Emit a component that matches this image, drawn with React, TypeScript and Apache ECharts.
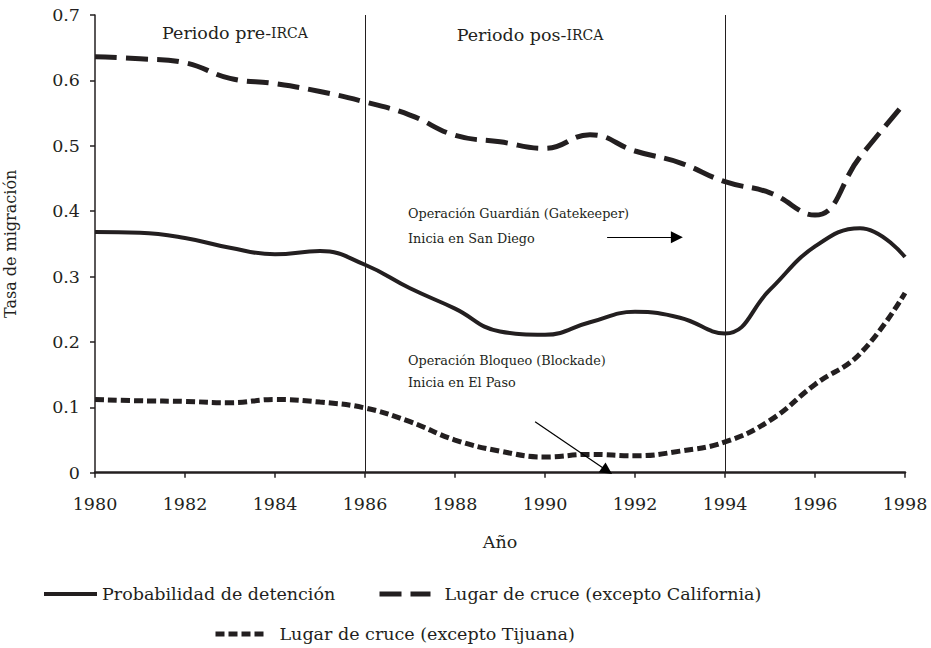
import React, { useEffect, useRef } from 'react';
import * as echarts from 'echarts';

const years = [1980, 1981, 1982, 1983, 1984, 1985, 1986, 1987, 1988, 1989, 1990, 1991, 1992, 1993, 1994, 1995, 1996, 1997, 1998];
const detencion = [0.368, 0.367, 0.359, 0.344, 0.334, 0.339, 0.318, 0.282, 0.251, 0.216, 0.211, 0.230, 0.246, 0.237, 0.213, 0.280, 0.346, 0.374, 0.330];
const california = [0.636, 0.633, 0.627, 0.603, 0.595, 0.583, 0.567, 0.547, 0.516, 0.506, 0.496, 0.517, 0.492, 0.474, 0.445, 0.428, 0.394, 0.483, 0.566];
const tijuana = [0.112, 0.110, 0.109, 0.107, 0.112, 0.108, 0.099, 0.078, 0.050, 0.033, 0.024, 0.028, 0.026, 0.033, 0.047, 0.080, 0.135, 0.182, 0.275];

const seriesNames = ['Probabilidad de detención', 'Lugar de cruce (excepto California)', 'Lugar de cruce (excepto Tijuana)'];
const periodLines = [1986, 1994];
const periodLabels = ['Periodo pre-{sc|IRCA}', 'Periodo pos-{sc|IRCA}'];
const gatekeeperText = ['Operación Guardián (Gatekeeper)', 'Inicia en San Diego'];
const blockadeText = ['Operación Bloqueo (Blockade)', 'Inicia en El Paso'];
const gatekeeperArrow = [[1991.38, 0.36], [1992.93, 0.36]];
const blockadeArrow = [[1989.78, 0.078], [1991.38, 0.003]];

const FONT = "DejaVu Serif, Liberation Serif, serif";
const INK = '#231f20';
const FS = 17.5;

export default function App() {
  const ref = useRef<HTMLDivElement>(null);
  useEffect(() => {
    document.body.style.margin = '0';
    const chart = echarts.init(ref.current!, null, { renderer: 'svg' });
    const pair = (vals: number[]) => years.map((y, i) => [y, vals[i]]);
    const legendBase = {
      orient: 'horizontal',
      padding: 0,
      itemHeight: 14,
      selectedMode: false,
      itemStyle: { opacity: 0 },
      textStyle: { fontFamily: FONT, fontSize: FS, color: INK },
    };
    chart.setOption({
      animation: false,
      textStyle: { fontFamily: FONT, color: INK },
      grid: { left: 95, right: 26, top: 15, bottom: 175.3, outerBoundsMode: 'none', containLabel: false },
      xAxis: {
        type: 'value',
        min: 1980,
        max: 1998,
        interval: 2,
        name: 'Año',
        nameLocation: 'middle',
        nameGap: 60,
        nameTextStyle: { fontFamily: FONT, fontSize: FS, color: INK },
        axisLine: { show: true, lineStyle: { color: INK, width: 2.5 } },
        axisTick: { show: true, length: 5, lineStyle: { color: INK, width: 1.5 } },
        axisLabel: { margin: 22, fontFamily: FONT, fontSize: FS, color: INK, formatter: (v: number) => String(v) },
        splitLine: { show: false },
      },
      yAxis: {
        type: 'value',
        min: 0,
        max: 0.7,
        interval: 0.1,
        name: 'Tasa de migración',
        nameLocation: 'middle',
        nameGap: 77,
        nameTextStyle: { fontFamily: FONT, fontSize: 16, color: INK },
        axisLine: { show: true, lineStyle: { color: INK, width: 1.5 } },
        axisTick: { show: true, length: 5, lineStyle: { color: INK, width: 1.5 } },
        axisLabel: { margin: 15, fontFamily: FONT, fontSize: FS, color: INK, formatter: (v: number) => (v === 0 ? '0' : v.toFixed(1)) },
        splitLine: { show: false },
      },
      legend: [
        { ...legendBase, data: [seriesNames[0]], left: 42, top: 585, itemWidth: 53, lineStyle: { width: 4 } },
        { ...legendBase, data: [seriesNames[1]], left: 377, top: 585, itemWidth: 51, lineStyle: { width: 5 }, textStyle: { ...legendBase.textStyle, padding: [0, 0, 0, 9] } },
        { ...legendBase, data: [seriesNames[2]], left: 213, top: 625, itemWidth: 52, lineStyle: { width: 5 }, textStyle: { ...legendBase.textStyle, padding: [0, 0, 0, 7] } },
      ],
      series: [
        {
          name: seriesNames[0],
          type: 'line',
          data: pair(detencion),
          smooth: 0.45,
          symbol: 'none',
          color: INK,
          lineStyle: { color: INK, width: 4, type: 'solid' },
          markLine: {
            silent: true,
            symbol: ['none', 'none'],
            label: { show: false },
            lineStyle: { color: INK, width: 1, type: 'solid' },
            data: periodLines.map((x) => ({ xAxis: x })),
          },
        },
        {
          name: seriesNames[1],
          type: 'line',
          data: pair(california),
          smooth: 0.45,
          symbol: 'none',
          color: INK,
          lineStyle: { color: INK, width: 5, type: [22, 9] },
        },
        {
          name: seriesNames[2],
          type: 'line',
          data: pair(tijuana),
          smooth: 0.45,
          symbol: 'none',
          color: INK,
          lineStyle: { color: INK, width: 5, type: [9, 4] },
          markLine: {
            silent: true,
            symbol: ['none', 'triangle'],
            symbolSize: 12,
            label: { show: false },
            lineStyle: { color: '#000', width: 1.2, type: 'solid' },
            itemStyle: { color: '#000' },
            data: [
              [{ coord: gatekeeperArrow[0] }, { coord: gatekeeperArrow[1] }],
              [{ coord: blockadeArrow[0] }, { coord: blockadeArrow[1] }],
            ],
          },
        },
      ],
      graphic: [
        {
          type: 'text',
          x: 235,
          y: 33,
          style: {
            text: periodLabels[0],
            fontFamily: FONT,
            fontSize: FS,
            fill: INK,
            align: 'center',
            verticalAlign: 'middle',
            rich: { sc: { fontFamily: FONT, fontSize: 14, fill: INK } },
          },
        },
        {
          type: 'text',
          x: 530,
          y: 35,
          style: {
            text: periodLabels[1],
            fontFamily: FONT,
            fontSize: FS,
            fill: INK,
            align: 'center',
            verticalAlign: 'middle',
            rich: { sc: { fontFamily: FONT, fontSize: 14, fill: INK } },
          },
        },
        ...gatekeeperText.map((t, i) => ({
          type: 'text',
          x: 408,
          y: 213 + i * 25,
          style: { text: t, fontFamily: FONT, fontSize: 12.8, fill: INK, align: 'left', verticalAlign: 'middle' },
        })),
        ...blockadeText.map((t, i) => ({
          type: 'text',
          x: 408,
          y: 360 + i * 22,
          style: { text: t, fontFamily: FONT, fontSize: 12.8, fill: INK, align: 'left', verticalAlign: 'middle' },
        })),
      ],
    });
    return () => chart.dispose();
  }, []);
  return <div ref={ref} style={{ width: 931, height: 648, position: 'absolute', left: 0, top: 0 }} />;
}
